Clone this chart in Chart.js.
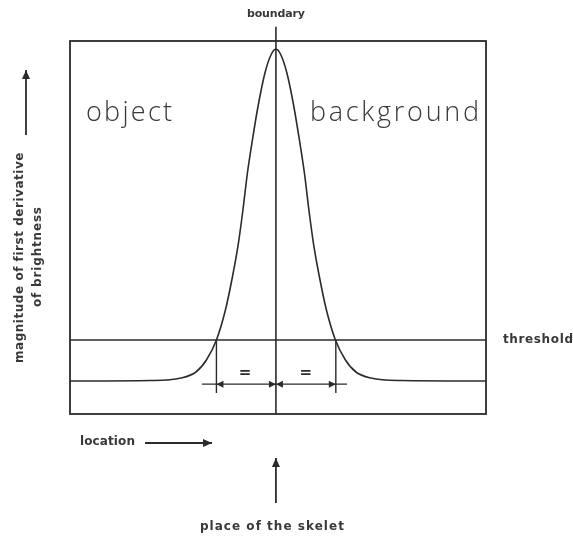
<!DOCTYPE html>
<html>
<head>
<meta charset="utf-8">
<script src="https://cdn.jsdelivr.net/npm/chart.js@4.4.0/dist/chart.umd.min.js"></script>
<style>html,body{margin:0;padding:0;background:#fff}</style>
</head>
<body>
<canvas id="chart" width="573" height="536"></canvas>
<script>
// location (0..100 across the box) and gradient magnitude (0..100 up the box)
const curveX = [0, 19.45, 26.66, 30.27, 32.79, 35.2, 37.36, 39.04, 40.49, 41.57, 42.65, 43.85, 45.17, 46.86, 48.3, 49.5,
                50.7, 52.14, 53.83, 55.15, 56.35, 57.43, 58.51, 59.96, 61.64, 63.8, 66.21, 68.73, 72.34, 79.55, 100];
const curveY = [8.85, 8.98, 9.65, 11.26, 14.48, 19.84, 27.88, 36.73, 45.84, 54.69, 64.61, 73.46, 82.31, 91.42, 96.25, 97.86,
                96.25, 91.42, 82.31, 73.46, 64.61, 54.69, 45.84, 36.73, 27.88, 19.84, 14.48, 11.26, 9.65, 8.98, 8.85];

const boundaryX = 49.5;
const boundaryY = [0, 103.8];
const thresholdY = 19.84;
const thresholdX = [0, 100];
const tickX = [35.2, 63.9];
const tickY = [19.84, 5.6];
const dimY = 8.0;
const dimX = [31.7, 66.6];
const arrowHeadX = [35.2, 49.5, 49.5, 63.9];
const arrowHeadDir = [-1, 1, -1, 1];
const equalX = [42.1, 56.7];
const equalY = 11.0;

const ink = '#2b2b2b';
const textInk = '#383838';

function spaced(ctx, text, x, y, width, font, align) {
  ctx.font = font;
  ctx.letterSpacing = '0px';
  const w = ctx.measureText(text).width;
  const s = (width - w) / Math.max(1, text.length - 1);
  ctx.letterSpacing = s + 'px';
  ctx.textAlign = 'left';
  const left = align === 'center' ? x - width / 2 : x;
  ctx.fillText(text, left, y);
  ctx.letterSpacing = '0px';
}

function head(ctx, x, y, dx, dy, len, half) {
  const px = -dy, py = dx;
  ctx.beginPath();
  ctx.moveTo(x, y);
  ctx.lineTo(x - dx * len + px * half, y - dy * len + py * half);
  ctx.lineTo(x - dx * len - px * half, y - dy * len - py * half);
  ctx.closePath();
  ctx.fill();
}

function arrow(ctx, x1, y1, x2, y2) {
  ctx.beginPath();
  ctx.moveTo(x1, y1);
  ctx.lineTo(x2, y2);
  ctx.stroke();
  const d = Math.hypot(x2 - x1, y2 - y1);
  head(ctx, x2, y2, (x2 - x1) / d, (y2 - y1) / d, 9, 4);
}

const boxPlugin = {
  id: 'box',
  beforeDatasetsDraw(chart) {
    const { ctx, chartArea: a } = chart;
    ctx.save();
    ctx.strokeStyle = ink;
    ctx.lineWidth = 1.8;
    ctx.strokeRect(a.left, a.top, a.right - a.left, a.bottom - a.top);
    ctx.restore();
  }
};

const labelPlugin = {
  id: 'labels',
  afterDatasetsDraw(chart) {
    const { ctx, scales: { x, y } } = chart;
    const bx = x.getPixelForValue(boundaryX);
    const small = 'bold 11px "DejaVu Sans"';
    const mid = 'bold 12px "DejaVu Sans"';
    const big = '300 27px "Open Sans"';
    ctx.save();
    ctx.fillStyle = ink;
    ctx.strokeStyle = ink;
    ctx.lineWidth = 1.8;
    ctx.textBaseline = 'middle';

    // dimension arrow heads and equal marks
    const dy = y.getPixelForValue(dimY);
    arrowHeadX.forEach((v, i) => head(ctx, x.getPixelForValue(v), dy, arrowHeadDir[i], 0, 7, 3.5));
    ctx.font = 'bold 15px "DejaVu Sans"';
    ctx.textAlign = 'center';
    equalX.forEach(v => ctx.fillText('=', x.getPixelForValue(v), y.getPixelForValue(equalY)));

    ctx.fillStyle = textInk;
    spaced(ctx, 'boundary', bx, 14, 58, small, 'center');
    spaced(ctx, 'object', 86, 113, 86, big, 'left');
    spaced(ctx, 'background', 310, 113, 169, big, 'left');
    spaced(ctx, 'threshold', 503, y.getPixelForValue(thresholdY), 70, mid, 'left');

    ctx.save();
    ctx.translate(20, 258);
    ctx.rotate(-Math.PI / 2);
    spaced(ctx, 'magnitude of first derivative', 0, 0, 210, mid, 'center');
    ctx.restore();
    ctx.save();
    ctx.translate(38, 257);
    ctx.rotate(-Math.PI / 2);
    spaced(ctx, 'of brightness', 0, 0, 100, mid, 'center');
    ctx.restore();

    spaced(ctx, 'location', 80, 442, 55, mid, 'left');
    spaced(ctx, 'place of the skelet', bx - 4, 527, 144, mid, 'center');

    ctx.fillStyle = ink;
    arrow(ctx, 26, 135, 26, 70);
    arrow(ctx, 145, 443, 212, 443);
    arrow(ctx, bx, 503, bx, 458);
    ctx.restore();
  }
};

const pts = (xs, ys) => xs.map((v, i) => ({ x: v, y: ys[i] }));
const line = (data, extra) => Object.assign({
  data, borderColor: ink, borderWidth: 1.6, pointRadius: 0, showLine: true, fill: false
}, extra || {});

new Chart(document.getElementById('chart'), {
  type: 'scatter',
  data: {
    datasets: [
      line(pts(curveX, curveY), { cubicInterpolationMode: 'monotone' }),
      line(pts([boundaryX, boundaryX], boundaryY), { clip: false }),
      line(pts(thresholdX, [thresholdY, thresholdY])),
      line(pts([tickX[0], tickX[0]], tickY), { borderWidth: 1.4 }),
      line(pts([tickX[1], tickX[1]], tickY), { borderWidth: 1.4 }),
      line(pts(dimX, [dimY, dimY]), { borderWidth: 1.4 })
    ]
  },
  options: {
    responsive: false,
    animation: false,
    layout: { padding: { left: 70, top: 41, right: 87, bottom: 122 } },
    scales: {
      x: { type: 'linear', min: 0, max: 100, display: false },
      y: { type: 'linear', min: 0, max: 100, display: false }
    },
    plugins: { legend: { display: false }, tooltip: { enabled: false } }
  },
  plugins: [boxPlugin, labelPlugin]
});
</script>
</body>
</html>
